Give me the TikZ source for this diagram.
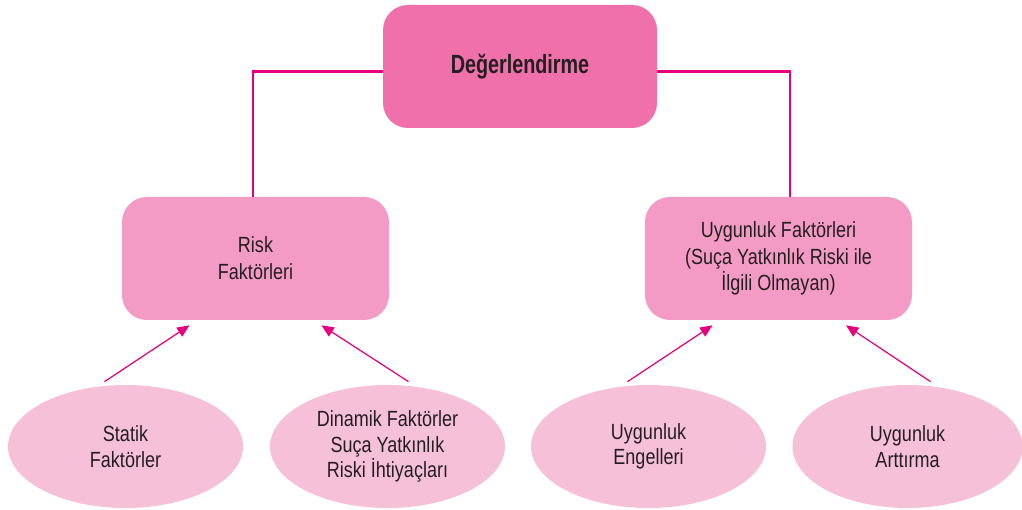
\documentclass[tikz,border=0pt]{standalone}
\usepackage{fontspec}
\setmainfont{Liberation Sans}[FakeStretch=0.82]
\newfontfamily\titlefont{Liberation Sans}[FakeStretch=0.75]
\usetikzlibrary{arrows.meta, calc, positioning, shapes.geometric}
\definecolor{topfill}{RGB}{240,112,169}
\definecolor{midfill}{RGB}{243,155,196}
\definecolor{lowfill}{RGB}{246,192,217}
\definecolor{linkcol}{RGB}{230,0,126}
\definecolor{textcol}{RGB}{35,31,32}
\tikzset{
  topbox/.style={fill=topfill, rounded corners=0.5cm, minimum width=5.48cm, minimum height=2.46cm, inner sep=0pt, align=center, text=textcol},
  midbox/.style={fill=midfill, rounded corners=0.5cm, minimum width=5.34cm, minimum height=2.46cm, inner sep=0pt, align=center, text=textcol, font=\fontsize{12.5}{15.2}\selectfont},
  lowell/.style={ellipse, fill=lowfill, minimum width=4.7cm, minimum height=2.46cm, inner sep=0pt, align=center, text=textcol, font=\fontsize{12.5}{14.6}\selectfont},
  conn/.style={draw=linkcol, line width=1.5pt},
  arr/.style={draw=linkcol, line width=0.7pt, -{Triangle[length=7pt, width=6pt]}}
}

\begin{document}
\begin{tikzpicture}
  \useasboundingbox (0, 0) rectangle (20.44, 10.2);

  \node[topbox] (deg) at (10.4, 8.87) {\titlefont\fontsize{15}{17}\selectfont\bfseries Değerlendirme};

  \node[midbox] (risk) at (5.11, 5.03) {Risk\\Faktörleri};
  \node[midbox] (uyg) at (15.57, 5.03) {Uygunluk Faktörleri\\(Suça Yatkınlık Riski ile\\İlgili Olmayan)};

  \node[lowell] (stat) at (2.51, 1.27) {Statik\\Faktörler};
  \node[lowell] (din) at (7.75, 1.27) {Dinamik Faktörler\\Suça Yatkınlık\\Riski İhtiyaçları};
  \node[lowell] (eng) at (12.97, 1.27) {Uygunluk\\Engelleri};
  \node[lowell, minimum width=4.6cm] (art) at (18.15, 1.27) {Uygunluk\\Arttırma};

  \draw[conn] ([yshift=-0.1cm]deg.west) -| ([xshift=-0.05cm]risk.north);
  \draw[conn] ([yshift=-0.1cm]deg.east) -| ([xshift=0.23cm]uyg.north);

  \draw[arr] ($(stat.north)+(-0.42, 0.06)$) -- ($(risk.south)+(-1.32, -0.1)$);
  \draw[arr] ($(din.north)+(0.42, 0.06)$) -- ($(risk.south)+(1.32, -0.1)$);
  \draw[arr] ($(eng.north)+(-0.42, 0.06)$) -- ($(uyg.south)+(-1.32, -0.1)$);
  \draw[arr] ($(art.north)+(0.46, 0.06)$) -- ($(uyg.south)+(1.35, -0.1)$);
\end{tikzpicture}
\end{document}
